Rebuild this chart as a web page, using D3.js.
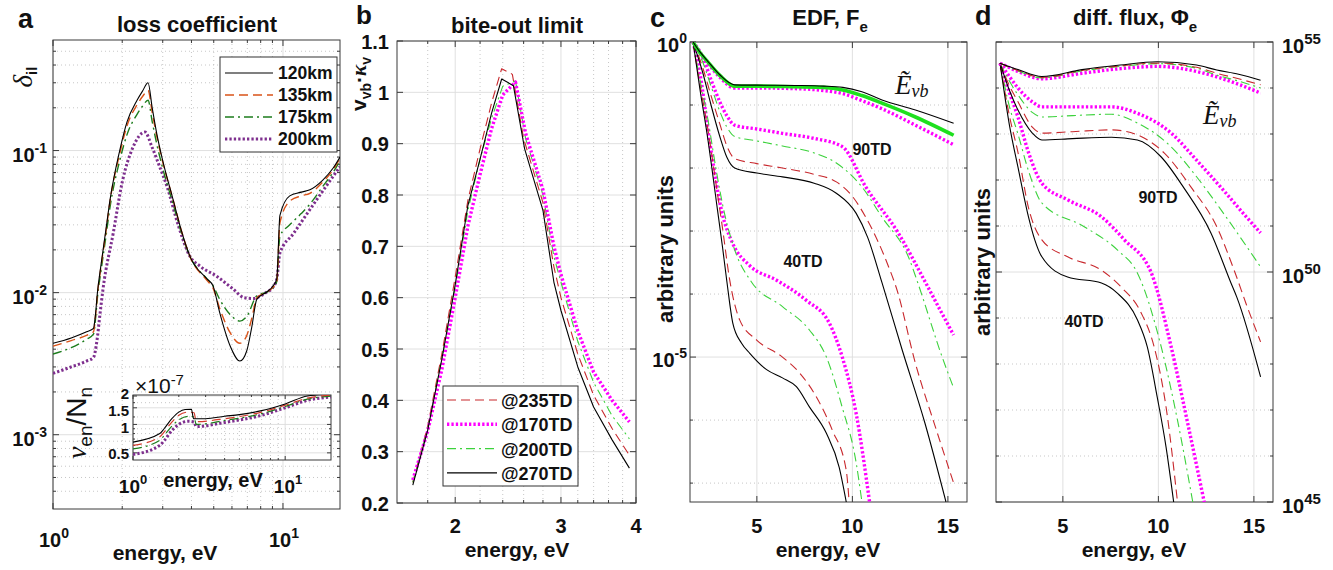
<!DOCTYPE html>
<html><head><meta charset="utf-8">
<script src="https://cdn.jsdelivr.net/npm/d3@7"></script>
<style>body{margin:0;background:#fff}svg{display:block}</style>
</head><body><script>
// ---------------- DATA ----------------
// Panel a: loss coefficient delta_il vs energy (eV)
const aLoss120 = [[1.0,4.4e-3],[1.2,4.8e-3],[1.4,5.3e-3],[1.5,5.6e-3],[1.53,7e-3],[1.56,0.0100],[1.62,0.016],[1.7,0.028],[1.77,0.045],[1.95,0.1],[2.1,0.16],[2.32,0.226],[2.45,0.262],[2.59,0.30],[2.7,0.2],[2.83,0.13],[3.0,0.085],[3.33,0.045],[3.6,0.028],[3.94,0.018],[4.67,0.0125],[4.96,0.0112],[5.3,7.3e-3],[5.9,4.2e-3],[6.5,3.3e-3],[6.96,3.9e-3],[7.3,5.6e-3],[7.7,9e-3],[8.5,0.0101],[9.0,0.011],[9.4,0.0125],[9.7,0.035],[10.7,0.048],[12.0,0.051],[13.1,0.053],[14.9,0.062],[16.5,0.075],[17.7,0.09]];
const aLoss135 = [[1.0,4.2e-3],[1.2,4.6e-3],[1.4,5.0e-3],[1.5,5.3e-3],[1.53,6.8e-3],[1.56,0.0097],[1.62,0.0155],[1.7,0.027],[1.77,0.044],[1.95,0.095],[2.1,0.15],[2.32,0.21],[2.45,0.24],[2.59,0.265],[2.7,0.185],[2.83,0.125],[3.0,0.083],[3.33,0.045],[3.6,0.028],[3.94,0.018],[4.67,0.0122],[4.96,0.0108],[5.3,7.8e-3],[5.9,5.2e-3],[6.5,4.4e-3],[6.96,5.0e-3],[7.3,6.5e-3],[7.7,9.2e-3],[8.5,0.0101],[9.0,0.0108],[9.4,0.012],[9.7,0.031],[10.7,0.044],[12.0,0.048],[13.1,0.05],[14.9,0.06],[16.5,0.073],[17.7,0.088]];
const aLoss175 = [[1.0,3.7e-3],[1.2,4.1e-3],[1.4,4.7e-3],[1.5,5.1e-3],[1.53,6.5e-3],[1.56,0.0092],[1.62,0.0145],[1.7,0.025],[1.77,0.04],[1.95,0.085],[2.1,0.13],[2.32,0.18],[2.45,0.205],[2.59,0.226],[2.7,0.16],[2.83,0.11],[3.0,0.075],[3.33,0.042],[3.6,0.027],[3.94,0.018],[4.67,0.0125],[4.96,0.0112],[5.3,9e-3],[5.9,7e-3],[6.5,6.3e-3],[6.96,6.8e-3],[7.7,9.5e-3],[8.5,0.0101],[9.0,0.0107],[9.4,0.012],[9.7,0.025],[10.7,0.03],[12.0,0.036],[13.1,0.042],[14.9,0.056],[16.5,0.07],[17.7,0.085]];
const aLoss200 = [[1.0,2.7e-3],[1.2,3.0e-3],[1.4,3.3e-3],[1.5,3.5e-3],[1.55,4.5e-3],[1.6,7e-3],[1.65,0.0106],[1.83,0.0265],[2.0,0.06],[2.23,0.106],[2.51,0.135],[2.7,0.105],[2.9,0.078],[3.13,0.056],[3.5,0.03],[3.94,0.018],[4.35,0.0154],[5.16,0.013],[6.07,0.0106],[6.8,9.2e-3],[7.5,9.1e-3],[8.0,9.5e-3],[8.5,0.0101],[9.0,0.0108],[9.4,0.0125],[9.7,0.019],[11.1,0.026],[14.0,0.045],[17.7,0.077]];
const aLegend = ['120km','135km','175km','200km'];
// Panel a inset: nu_en/N_n (x 1e-7)
const aNu120 = [[1,0.65],[1.5,0.8],[1.6,0.9],[1.8,1.15],[2.0,1.35],[2.2,1.44],[2.42,1.45],[2.5,1.15],[3,1.15],[4,1.22],[5,1.27],[7,1.4],[10,1.65],[14,2.0],[20,2.1]];
const aNu135 = [[1,0.6],[1.5,0.74],[1.6,0.83],[1.8,1.06],[2.0,1.25],[2.3,1.35],[2.52,1.33],[2.6,1.07],[4,1.15],[7,1.35],[10,1.6],[14,1.9],[20,2.05]];
const aNu175 = [[1,0.55],[1.5,0.68],[1.6,0.76],[1.8,0.96],[2.0,1.12],[2.3,1.22],[2.52,1.2],[2.6,1.0],[4,1.1],[7,1.3],[10,1.55],[14,1.85],[20,2.0]];
const aNu200 = [[1,0.48],[1.5,0.6],[1.6,0.67],[1.8,0.86],[2.0,1.0],[2.3,1.08],[2.52,1.06],[2.6,0.95],[4,1.05],[7,1.25],[10,1.5],[14,1.8],[20,1.95]];
const aXTicks = [1,10], aYTicks = [1e-3,1e-2,1e-1];
const aInsetYTicks = [0.5,1,1.5,2];

// Panel b: bite-out limit
const bLimit235 = [[1.7,0.24],[1.8,0.35],[1.9,0.49],[2.0,0.64],[2.1,0.79],[2.2,0.89],[2.3,0.98],[2.39,1.046],[2.49,1.035],[2.6,0.91],[2.8,0.785],[2.92,0.66],[3.0,0.6],[3.2,0.49],[3.4,0.41],[3.65,0.345],[3.9,0.293]];
const bLimit170 = [[1.7,0.245],[1.8,0.34],[1.9,0.46],[2.0,0.6],[2.1,0.74],[2.2,0.84],[2.3,0.93],[2.4,0.995],[2.52,1.02],[2.62,0.92],[2.8,0.81],[2.92,0.7],[3.0,0.645],[3.2,0.535],[3.4,0.455],[3.65,0.4],[3.9,0.358]];
const bLimit200 = [[1.7,0.24],[1.8,0.345],[1.9,0.48],[2.0,0.62],[2.1,0.77],[2.2,0.87],[2.3,0.95],[2.4,1.012],[2.52,1.022],[2.62,0.91],[2.8,0.8],[2.92,0.68],[3.0,0.63],[3.2,0.515],[3.4,0.435],[3.65,0.37],[3.9,0.325]];
const bLimit270 = [[1.7,0.235],[1.8,0.342],[1.9,0.48],[2.0,0.625],[2.1,0.78],[2.2,0.87],[2.3,0.96],[2.39,1.026],[2.5,1.013],[2.61,0.89],[2.8,0.77],[2.92,0.63],[3.0,0.575],[3.2,0.465],[3.4,0.387],[3.65,0.323],[3.9,0.268]];
const bLegend = ['@235TD','@170TD','@200TD','@270TD'];
const bXTicks = [2,3,4], bXMinor = [1.8,2.2,2.4,2.6,2.8,3.2,3.4,3.6,3.8];
const bYTicks = [0.2,0.3,0.4,0.5,0.6,0.7,0.8,0.9,1,1.1];

// Panel c: EDF (log10 values)
const cEvbBlack = [[1.66,0],[2.0,-0.15],[2.39,-0.29],[3.06,-0.52],[3.84,-0.68],[5,-0.685],[7,-0.69],[8.5,-0.7],[9.5,-0.72],[10.5,-0.79],[11.55,-0.92],[13.3,-1.08],[15.3,-1.29]];
const cEvbRed = [[1.66,0],[2.0,-0.16],[2.39,-0.31],[3.06,-0.55],[3.84,-0.72],[5,-0.72],[7,-0.72],[8.5,-0.73],[9.5,-0.77],[10.5,-0.86],[11.55,-0.98],[13.3,-1.2],[15.3,-1.47]];
const cEvbGreen = [[1.66,0],[2.0,-0.16],[2.39,-0.3],[3.06,-0.53],[3.84,-0.7],[5,-0.7],[7,-0.71],[8.5,-0.72],[9.5,-0.76],[10.5,-0.85],[11.55,-0.97],[13.3,-1.19],[15.3,-1.48]];
const cEvbMagenta = [[1.66,0],[2.0,-0.17],[2.39,-0.32],[3.06,-0.56],[3.84,-0.73],[5,-0.73],[7,-0.74],[8.5,-0.77],[9.5,-0.82],[10.5,-0.93],[11.55,-1.06],[13.3,-1.32],[15.3,-1.63]];
const c90Black = [[1.66,0],[2.18,-0.5],[2.6,-1.0],[3.06,-1.5],[3.43,-1.83],[3.84,-2.0],[5,-2.08],[6.34,-2.14],[8,-2.24],[9.16,-2.4],[10.2,-2.72],[10.8,-3.1],[11.55,-3.82],[12.6,-4.88],[13.8,-6.05],[14.9,-7.3]];
const c90Red = [[1.66,0],[2.18,-0.42],[2.6,-0.85],[3.06,-1.3],[3.43,-1.65],[3.84,-1.85],[5,-1.93],[6.34,-2.0],[8,-2.1],[9.16,-2.22],[10.0,-2.45],[10.7,-2.78],[11.9,-3.57],[12.3,-3.9],[13.3,-5.1],[14.4,-6.16],[15.3,-7.0]];
const c90Green = [[1.66,0],[2.18,-0.33],[2.6,-0.7],[3.06,-1.1],[3.43,-1.35],[3.84,-1.5],[5,-1.57],[6.34,-1.65],[8,-1.76],[9.16,-1.92],[10.5,-2.3],[11.55,-2.78],[13.0,-3.46],[13.4,-3.8],[14.7,-5.0],[15.3,-5.49]];
const c90Magenta = [[1.66,0],[2.18,-0.25],[2.6,-0.6],[3.06,-0.95],[3.43,-1.17],[3.84,-1.32],[5,-1.38],[6.34,-1.45],[8,-1.53],[9.47,-1.66],[10.7,-2.3],[12.4,-3.03],[13.8,-3.8],[14.5,-4.2],[15.3,-4.65]];
const c40Black = [[1.66,0],[2.02,-0.75],[2.39,-1.45],[2.91,-2.6],[3.2,-3.25],[3.43,-3.8],[3.74,-4.46],[4.2,-4.78],[4.63,-4.94],[5.51,-5.2],[6.34,-5.33],[7.07,-5.47],[7.75,-5.79],[8.64,-6.21],[9.31,-6.75],[9.68,-7.3]];
const c40Red = [[1.66,0],[2.02,-0.68],[2.39,-1.3],[2.91,-2.35],[3.2,-2.95],[3.58,-3.78],[4.1,-4.41],[4.99,-4.73],[6.34,-5.0],[7.23,-5.25],[8.11,-5.63],[8.95,-6.16],[9.68,-6.8],[9.83,-7.3]];
const c40Green = [[1.66,0],[2.02,-0.6],[2.39,-1.15],[2.91,-2.1],[3.22,-2.6],[3.84,-3.3],[4.7,-3.8],[6.34,-4.2],[7.75,-4.57],[8.64,-5.0],[9.47,-5.8],[10.2,-6.68],[10.5,-7.3]];
const c40Magenta = [[1.66,0],[2.02,-0.5],[2.54,-1.6],[3.17,-2.7],[3.74,-3.2],[4.63,-3.55],[6.03,-3.78],[7.59,-4.1],[8.79,-4.46],[9.47,-5.0],[10.2,-5.9],[10.9,-7.3]];
const cXTicks = [5,10,15];
const cYExpTicks = [0,-5], cYExpMinor = [-1,-2,-3,-4,-6,-7];

// Panel d: differential flux (log10 values)
const dEvbBlack = [[1.71,54.54],[2.65,54.4],[3.9,54.25],[6,54.4],[8,54.5],[9.94,54.57],[12,54.5],[13.06,54.39],[14.2,54.3],[15.35,54.17]];
const dEvbRed = [[1.71,54.54],[2.65,54.38],[3.9,54.23],[6,54.38],[8,54.48],[9.94,54.54],[12,54.45],[13.06,54.32],[14.2,54.2],[15.35,54.07]];
const dEvbGreen = [[1.71,54.54],[2.65,54.37],[3.9,54.22],[6,54.37],[8,54.47],[9.94,54.53],[12,54.43],[13.06,54.28],[14.2,54.15],[15.35,54.0]];
const dEvbMagenta = [[1.71,54.54],[2.65,54.36],[3.9,54.2],[6,54.32],[8,54.42],[9.94,54.47],[12,54.36],[13.06,54.24],[14.2,54.08],[15.35,53.89]];
const d90Black = [[1.71,54.54],[2.2,53.95],[2.65,53.52],[3.4,53.02],[3.9,52.87],[5.5,52.9],[7.54,52.93],[8.9,52.87],[10.15,52.5],[11.3,51.85],[12.75,50.85],[13.8,49.76],[14.1,49.46],[15.35,47.72]];
const d90Red = [[1.71,54.54],[2.2,54.05],[2.65,53.7],[3.4,53.15],[3.9,53.02],[5.5,53.05],[7.54,53.09],[8.9,52.98],[10.3,52.59],[11.7,51.85],[13.06,50.98],[14.0,50.0],[14.6,49.3],[15.35,48.48]];
const d90Green = [[1.71,54.54],[2.2,54.15],[2.65,53.85],[3.4,53.47],[3.9,53.37],[5.5,53.4],[7.54,53.43],[8.9,53.24],[10.67,52.72],[12.0,52.07],[13.4,51.28],[15.35,50.11]];
const d90Magenta = [[1.71,54.54],[2.2,54.25],[2.65,54.0],[3.4,53.7],[3.9,53.59],[5.5,53.59],[7.54,53.59],[8.9,53.45],[10.67,53.02],[12.0,52.43],[13.4,51.78],[14.6,51.2],[15.35,50.85]];
const d40Black = [[1.71,54.54],[2.2,53.2],[2.65,52.28],[3.2,51.2],[3.53,50.7],[3.9,50.33],[5.25,49.89],[7.02,49.76],[7.85,49.54],[8.9,48.96],[9.42,48.37],[9.94,47.28],[10.4,46.2],[10.8,45.0]];
const d40Red = [[1.71,54.54],[2.2,53.4],[2.65,52.6],[3.2,51.4],[3.9,50.7],[5.25,50.33],[7.02,50.04],[8.06,49.67],[9.1,49.11],[9.78,48.37],[10.4,47.07],[11.0,45.0]];
const d40Green = [[1.71,54.54],[2.2,53.6],[2.65,53.0],[3.2,52.2],[3.9,51.5],[6.14,50.98],[7.85,50.48],[8.9,49.98],[10.15,48.37],[11.0,46.78],[11.8,45.0]];
const d40Magenta = [[1.71,54.54],[2.2,53.9],[2.65,53.37],[3.2,52.6],[3.9,51.93],[5.25,51.57],[7.02,51.2],[8.22,50.7],[9.63,49.98],[10.67,48.37],[11.5,46.78],[12.4,45.0]];
const dXTicks = [5,10,15];
const dYExpTicks = [45,50,55], dYExpMinor = [46,47,48,49,51,52,53,54];

// ---------------- DRAWING ----------------
const W = 1333, H = 570;
const FONT = "'Liberation Sans', Arial, Helvetica, sans-serif";
const SERIF = "'Liberation Serif', 'Times New Roman', serif";
const COL = {black:'#000000', orange:'#D95319', dgreen:'#1C7C1C', purple:'#7E2F8E',
             red:'#C8282D', magenta:'#FF00FF', lgreen:'#3CD23C', bgreen:'#1EE01E'};
const STY = {solid:{w:1.1,dash:null}, dashed:{w:1.1,dash:'9,5'}, dashdot:{w:1.1,dash:'9,4,2,4'}, dotted:{w:3.2,dash:'2.3,2.1'}};

const svg = d3.select('body').append('svg').attr('width',W).attr('height',H);
svg.append('rect').attr('width',W).attr('height',H).attr('fill','#fff');
const defs = svg.append('defs');
let clipN = 0;
function clipFor(xs, ys){
  const id = 'clip'+(clipN++);
  const [xa,xb]=xs.range(), [ya,yb]=ys.range();
  defs.append('clipPath').attr('id',id).append('rect').attr('x',xa).attr('y',yb).attr('width',xb-xa).attr('height',ya-yb);
  return 'url(#'+id+')';
}
function txt(g,x,y,s,o={}){
  const t=g.append('text').attr('x',x).attr('y',y).attr('font-family',o.family||FONT)
    .attr('font-size',o.size||20).attr('font-weight',o.weight||'bold')
    .attr('text-anchor',o.anchor||'start').attr('fill',o.fill||'#111');
  if(o.style) t.attr('font-style',o.style);
  t.text(s); return t;
}
function powTxt(g,x,y,base,exp,o={}){
  const size=o.size||20, ss=o.sup||14;
  const t=g.append('text').attr('x',x).attr('y',y).attr('font-family',FONT).attr('font-size',size)
    .attr('font-weight',o.weight||'bold').attr('text-anchor',o.anchor||'middle').attr('fill','#111');
  t.append('tspan').text(base);
  t.append('tspan').attr('dy',-(o.raise||9)).attr('font-size',ss).text(exp);
  return t;
}
function frame(g, xs, ys, o){
  const [xa,xb]=xs.range(), [ya,yb]=ys.range();
  const gg=g.append('g');
  const ln=(x1,y1,x2,y2,c,w,d)=>gg.append('line').attr('x1',x1).attr('y1',y1).attr('x2',x2).attr('y2',y2)
      .attr('stroke',c).attr('stroke-width',w).attr('stroke-dasharray',d||null);
  const MINC='#b9b9b9', MAJC='#dcdcdc', AX='#3a3a3a';
  (o.xMinor||[]).forEach(v=>{const x=xs(v); ln(x,ya,x,yb,MINC,0.8,'1,3');});
  (o.yMinor||[]).forEach(v=>{const y=ys(v); ln(xa,y,xb,y,MINC,0.8,'1,3');});
  (o.xMajor||[]).forEach(v=>{const x=xs(v); ln(x,ya,x,yb,MAJC,0.9);});
  (o.yMajor||[]).forEach(v=>{const y=ys(v); ln(xa,y,xb,y,MAJC,0.9);});
  const M=o.tick||6, m=o.minorTick||3;
  (o.xMajor||[]).forEach(v=>{const x=xs(v); ln(x,ya,x,ya-M,AX,1); ln(x,yb,x,yb+M,AX,1);});
  (o.yMajor||[]).forEach(v=>{const y=ys(v); ln(xa,y,xa+M,y,AX,1); ln(xb,y,xb-M,y,AX,1);});
  if(o.minorTicks!==false){
    (o.xMinor||[]).forEach(v=>{const x=xs(v); ln(x,ya,x,ya-m,AX,1); ln(x,yb,x,yb+m,AX,1);});
    (o.yMinor||[]).forEach(v=>{const y=ys(v); ln(xa,y,xa+m,y,AX,1); ln(xb,y,xb-m,y,AX,1);});
  }
  gg.append('rect').attr('x',xa).attr('y',yb).attr('width',xb-xa).attr('height',ya-yb)
    .attr('fill','none').attr('stroke',AX).attr('stroke-width',1);
}
function plot(g, xs, ys, data, color, style, o={}){
  const yf = o.exp ? d=>ys(Math.pow(10,d[1])) : d=>ys(d[1]);
  const line = d3.line().x(d=>xs(d[0])).y(yf).curve(o.curve||d3.curveMonotoneX);
  const s = STY[style];
  g.append('path').attr('d',line(data)).attr('fill','none').attr('stroke',color)
    .attr('stroke-width',o.w||s.w).attr('stroke-dasharray',s.dash).attr('stroke-linejoin','round');
}
function legendLine(g,x1,x2,y,color,style,w){
  const s=STY[style];
  g.append('line').attr('x1',x1).attr('x2',x2).attr('y1',y).attr('y2',y).attr('stroke',color)
    .attr('stroke-width',w||s.w).attr('stroke-dasharray',s.dash);
}
function rotLabel(g,x,y,o){
  return g.append('text').attr('transform',`translate(${x},${y}) rotate(-90)`).attr('text-anchor','middle')
    .attr('font-family',o.family||FONT).attr('font-size',o.size||21).attr('font-weight',o.weight||'bold').attr('fill','#111');
}

// ===== Panel a =====
{
  const g = svg.append('g');
  const xs = d3.scaleLog().domain([1,17.7]).range([53,340]);
  const ys = d3.scaleLog().domain([3e-4,0.6]).range([509,40]);
  const xMinor = [2,3,4,5,6,7,8,9];
  const yMinor = [].concat([4,5,6,7,8,9].map(v=>v*1e-4),[2,3,4,5,6,7,8,9].map(v=>v*1e-3),
                  [2,3,4,5,6,7,8,9].map(v=>v*1e-2),[0.2,0.3,0.4,0.5]);
  frame(g, xs, ys, {xMajor:aXTicks, xMinor, yMajor:aYTicks, yMinor});
  const cg = g.append('g').attr('clip-path', clipFor(xs,ys));
  plot(cg,xs,ys,aLoss200,COL.purple,'dotted',{w:3});
  plot(cg,xs,ys,aLoss175,COL.dgreen,'dashdot',{w:1.4});
  plot(cg,xs,ys,aLoss135,COL.orange,'dashed',{w:1.4});
  plot(cg,xs,ys,aLoss120,COL.black,'solid');
  [['-1',1e-1],['-2',1e-2],['-3',1e-3]].forEach(([e,v])=>powTxt(g,47,ys(v)+11.5,'10',e,{anchor:'end'}));
  [['0',1],['1',10]].forEach(([e,v])=>powTxt(g,xs(v)+1,547,'10',e,{anchor:'middle'}));
  txt(g,165,560,'energy, eV',{anchor:'middle',size:21});
  txt(g,197,32,'loss coefficient',{anchor:'middle',size:22});
  txt(g,18,28,'a',{size:27});
  const yl = rotLabel(g,32,77,{size:27,family:SERIF,weight:'normal'});
  yl.append('tspan').attr('font-style','italic').text('δ');
  yl.append('tspan').attr('font-family',FONT).attr('font-size',15).attr('font-weight','bold').attr('dy',5).text('il');
  // legend
  const lg = g.append('g');
  lg.append('rect').attr('x',220).attr('y',57).attr('width',117).attr('height',95).attr('fill','#fff').attr('stroke','#333');
  const lcols=[COL.black,COL.orange,COL.dgreen,COL.purple], lsty=['solid','dashed','dashdot','dotted'], lw=[1.1,1.4,1.4,3];
  aLegend.forEach((t,i)=>{const y=73+i*22; legendLine(lg,225,273,y,lcols[i],lsty[i],lw[i]); txt(lg,278,y+6,t,{size:17.5});});

  // inset
  const ig = g.append('g');
  const ixs = d3.scaleLog().domain([1,20]).range([133,331]);
  const iys = d3.scaleLog().domain([0.42,2.05]).range([460,395]);
  ig.append('rect').attr('x',133).attr('y',395).attr('width',198).attr('height',65).attr('fill','#fff');
  frame(ig, ixs, iys, {xMajor:[1,10], xMinor:[2,3,4,5,6,7,8,9], yMajor:aInsetYTicks, yMinor:[0.6,0.7,0.8,0.9,1.2,1.7], tick:4, minorTick:2});
  const icg = ig.append('g').attr('clip-path', clipFor(ixs,iys));
  plot(icg,ixs,iys,aNu200,COL.purple,'dotted',{w:3});
  plot(icg,ixs,iys,aNu175,COL.dgreen,'dashdot',{w:1.2});
  plot(icg,ixs,iys,aNu135,'#D33A2C','dashed',{w:1.2});
  plot(icg,ixs,iys,aNu120,COL.black,'solid');
  const insetLabOff = [6,9,8,3]; // baseline offsets for 0.5,1,1.5,2 (avoid overlap)
  aInsetYTicks.forEach((v,i)=>txt(ig,129,iys(v)+insetLabOff[i],String(v),{anchor:'end',size:15}));
  powTxt(ig,133,493,'10','0',{size:19,sup:13});
  powTxt(ig,288,493,'10','1',{size:19,sup:13});
  txt(ig,213,487,'energy, eV',{anchor:'middle',size:20});
  powTxt(ig,135,393,'×10','-7',{anchor:'start',size:21,sup:15,weight:'normal',raise:8});
  const il = rotLabel(ig,86,423,{size:28,weight:'normal'});
  il.append('tspan').attr('font-family',SERIF).attr('font-style','italic').text('ν');
  il.append('tspan').attr('font-size',19).attr('dy',6).text('en');
  il.append('tspan').attr('dy',-6).text('/N');
  il.append('tspan').attr('font-size',19).attr('dy',6).text('n');
}

// ===== Panel b =====
{
  const g = svg.append('g');
  const xs = d3.scaleLog().domain([1.6,4]).range([397,636]);
  const ys = d3.scaleLinear().domain([0.2,1.1]).range([503,41]);
  frame(g, xs, ys, {xMajor:bXTicks, xMinor:bXMinor, yMajor:bYTicks, yMinor:[]});
  const cg = g.append('g').attr('clip-path', clipFor(xs,ys));
  const lin = {curve:d3.curveLinear};
  plot(cg,xs,ys,bLimit235,COL.red,'dashed',lin);
  plot(cg,xs,ys,bLimit200,COL.lgreen,'dashdot',lin);
  plot(cg,xs,ys,bLimit170,COL.magenta,'dotted',{curve:d3.curveLinear,w:3.4});
  plot(cg,xs,ys,bLimit270,COL.black,'solid',lin);
  bYTicks.forEach(v=>txt(g,389,ys(v)+7.5,String(v),{anchor:'end',size:20}));
  bXTicks.forEach(v=>txt(g,xs(v),533,String(v),{anchor:'middle',size:20}));
  txt(g,517,557,'energy, eV',{anchor:'middle',size:21});
  txt(g,517,33,'bite-out limit',{anchor:'middle',size:22});
  txt(g,356,24,'b',{size:26});
  const yl = rotLabel(g,366,84,{size:21,weight:'bold'});
  yl.append('tspan').text('v');
  yl.append('tspan').attr('font-size',14).attr('dy',5).text('vb');
  yl.append('tspan').attr('dy',-5).text('·');
  yl.append('tspan').attr('font-family',SERIF).attr('font-style','italic').text('κ');
  yl.append('tspan').attr('font-size',14).attr('dy',5).text('v');
  // legend
  const lg = g.append('g');
  lg.append('rect').attr('x',443).attr('y',386).attr('width',135).attr('height',100).attr('fill','#fff').attr('stroke','#333');
  const lcols=[COL.red,COL.magenta,COL.lgreen,COL.black], lsty=['dashed','dotted','dashdot','solid'], lw=[1.1,3.4,1.1,1.1];
  bLegend.forEach((t,i)=>{const y=400+i*24.3; legendLine(lg,447,497,y,lcols[i],lsty[i],lw[i]); txt(lg,501,y+7,t,{size:18});});
}

// ===== Panel c =====
{
  const g = svg.append('g');
  const xs = d3.scaleLinear().domain([1.5,16]).range([690,967]);
  const ys = d3.scaleLog().domain([Math.pow(10,-7.3),1]).range([502,42]);
  frame(g, xs, ys, {xMajor:cXTicks, xMinor:[], yMajor:cYExpTicks.map(e=>Math.pow(10,e)), yMinor:cYExpMinor.map(e=>Math.pow(10,e))});
  const cg = g.append('g').attr('clip-path', clipFor(xs,ys));
  const E={exp:true};
  [[c40Magenta,c40Green,c40Red,c40Black],[c90Magenta,c90Green,c90Red,c90Black]].forEach(grp=>{
    plot(cg,xs,ys,grp[0],COL.magenta,'dotted',{exp:true,w:3.4});
    plot(cg,xs,ys,grp[1],COL.lgreen,'dashdot',E);
    plot(cg,xs,ys,grp[2],COL.red,'dashed',E);
    plot(cg,xs,ys,grp[3],COL.black,'solid',E);
  });
  plot(cg,xs,ys,cEvbMagenta,COL.magenta,'dotted',{exp:true,w:3.4});
  plot(cg,xs,ys,cEvbRed,COL.red,'dashed',E);
  plot(cg,xs,ys,cEvbGreen,COL.bgreen,'solid',{exp:true,w:3.6});
  plot(cg,xs,ys,cEvbBlack,COL.black,'solid',E);
  cYExpTicks.forEach(e=>powTxt(g,687,ys(Math.pow(10,e))+10,'10',String(e),{anchor:'end'}));
  cXTicks.forEach(v=>txt(g,xs(v),533,String(v),{anchor:'middle',size:20}));
  txt(g,828,557,'energy, eV',{anchor:'middle',size:21});
  const t = txt(g,830,25,'EDF, F',{anchor:'middle',size:22});
  t.append('tspan').attr('font-size',15).attr('dy',7).text('e');
  txt(g,650,27,'c',{size:27});
  rotLabel(g,673,249,{size:22}).text('arbitrary units');
  const ev = g.append('text').attr('x',895).attr('y',94).attr('font-family',SERIF).attr('font-style','italic').attr('font-size',27).attr('fill','#111');
  ev.append('tspan').text('Ẽ'); ev.append('tspan').attr('font-size',18).attr('dy',3).text('vb');
  txt(g,872,155,'90TD',{anchor:'middle',size:16});
  txt(g,803,267,'40TD',{anchor:'middle',size:16});
}

// ===== Panel d =====
{
  const g = svg.append('g');
  const xs = d3.scaleLinear().domain([1.5,16]).range([996,1273]);
  const ys = d3.scaleLog().domain([1e45,1e55]).range([502,42]);
  frame(g, xs, ys, {xMajor:dXTicks, xMinor:[], yMajor:dYExpTicks.map(e=>Math.pow(10,e)), yMinor:dYExpMinor.map(e=>Math.pow(10,e))});
  const cg = g.append('g').attr('clip-path', clipFor(xs,ys));
  const E={exp:true};
  [[d40Magenta,d40Green,d40Red,d40Black],[d90Magenta,d90Green,d90Red,d90Black],[dEvbMagenta,dEvbGreen,dEvbRed,dEvbBlack]].forEach(grp=>{
    plot(cg,xs,ys,grp[0],COL.magenta,'dotted',{exp:true,w:3.4});
    plot(cg,xs,ys,grp[1],COL.lgreen,'dashdot',E);
    plot(cg,xs,ys,grp[2],COL.red,'dashed',E);
    plot(cg,xs,ys,grp[3],COL.black,'solid',E);
  });
  dYExpTicks.forEach(e=>powTxt(g,1282,ys(Math.pow(10,e))+11,'10',String(e),{anchor:'start',sup:15}));
  dXTicks.forEach(v=>txt(g,xs(v),533,String(v),{anchor:'middle',size:20}));
  txt(g,1134,557,'energy, eV',{anchor:'middle',size:21});
  const t = txt(g,1135,25,'diff. flux, Φ',{anchor:'middle',size:22});
  t.append('tspan').attr('font-size',15).attr('dy',7).text('e');
  txt(g,975,25,'d',{size:27});
  rotLabel(g,990,262,{size:22}).text('arbitrary units');
  const ev = g.append('text').attr('x',1203).attr('y',124).attr('font-family',SERIF).attr('font-style','italic').attr('font-size',27).attr('fill','#111');
  ev.append('tspan').text('Ẽ'); ev.append('tspan').attr('font-size',18).attr('dy',3).text('vb');
  txt(g,1158,203,'90TD',{anchor:'middle',size:16});
  txt(g,1084,327,'40TD',{anchor:'middle',size:16});
}
</script></body></html>
